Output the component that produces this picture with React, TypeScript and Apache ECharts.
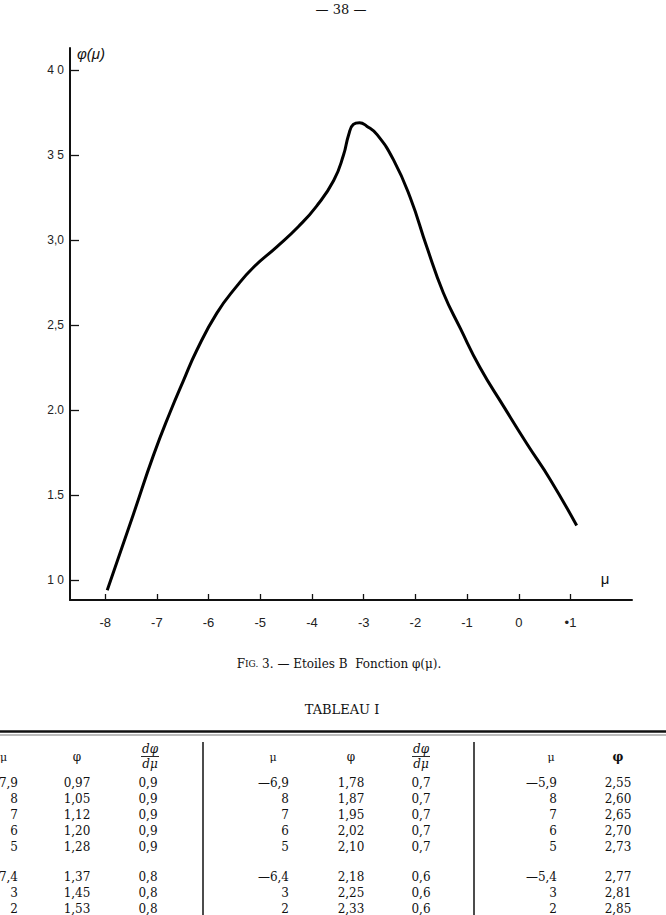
import React, { useEffect, useRef } from "react";
import * as echarts from "echarts";

// Curve: μ and φ(μ)
const muValues = [-7.96, -7.45, -7.07, -6.74, -6.49, -6.23, -5.84, -5.45, -5.13, -4.68, -4.26, -3.91, -3.58, -3.39, -3.29, -3.2, -3.08, -2.94, -2.74, -2.42, -2.1, -1.78, -1.46, -1.13, -0.75, -0.29, 0.16, 0.61, 1.12];
const phiValues = [0.94, 1.39, 1.73, 1.99, 2.17, 2.35, 2.57, 2.73, 2.84, 2.96, 3.08, 3.2, 3.35, 3.5, 3.62, 3.68, 3.69, 3.67, 3.62, 3.47, 3.25, 2.96, 2.69, 2.48, 2.25, 2.02, 1.8, 1.59, 1.32];

// Tick values and hand-written tick labels
const xTickValues = [-8, -7, -6, -5, -4, -3, -2, -1, 0, 1];
const xTickLabels = ["-8", "-7", "-6", "-5", "-4", "-3", "-2", "-1", "0", "•1"];
const yTickValues = [1, 1.5, 2, 2.5, 3, 3.5, 4];
const yTickLabels = ["1 0", "1.5", "2.0", "2,5", "3,0", "3 5", "4 0"];

// Texts
const pageNumber = "— 38 —";
const yAxisName = "φ(μ)";
const xAxisName = "μ";
const tableTitle = "TABLEAU I";

// Tableau I (visible part; the first column is cut by the page edge)
const tableMu1 = ["7,9", "8", "7", "6", "5", "7,4", "3", "2"];
const tablePhi1 = ["0,97", "1,05", "1,12", "1,20", "1,28", "1,37", "1,45", "1,53"];
const tableDphi1 = ["0,9", "0,9", "0,9", "0,9", "0,9", "0,8", "0,8", "0,8"];
const tableMu2 = ["—6,9", "8", "7", "6", "5", "—6,4", "3", "2"];
const tablePhi2 = ["1,78", "1,87", "1,95", "2,02", "2,10", "2,18", "2,25", "2,33"];
const tableDphi2 = ["0,7", "0,7", "0,7", "0,7", "0,7", "0,6", "0,6", "0,6"];
const tableMu3 = ["—5,9", "8", "7", "6", "5", "—5,4", "3", "2"];
const tablePhi3 = ["2,55", "2,60", "2,65", "2,70", "2,73", "2,77", "2,81", "2,85"];

const HAND = "'Liberation Sans', 'DejaVu Sans', sans-serif";
const SERIF = "'DejaVu Serif', 'Liberation Serif', serif";

function labelFor(values: number[], labels: string[], v: number) {
  for (let i = 0; i < values.length; i++) {
    if (Math.abs(values[i] - v) < 1e-6) return labels[i];
  }
  return "";
}

export default function App() {
  const ref = useRef<HTMLDivElement>(null);

  useEffect(() => {
    document.body.style.margin = "0";
    if (!ref.current) return;
    const chart = echarts.init(ref.current, undefined, { renderer: "svg" });

    const g: any[] = [];
    const txt = (x: number, y: number, text: string, font: string, align = "center", extra: any = {}) =>
      g.push({
        type: "text",
        x,
        y,
        silent: true,
        style: { text, font, fill: "#111", align, verticalAlign: "middle", ...extra },
      });
    const line = (x1: number, y1: number, x2: number, y2: number, w: number, color = "#111") =>
      g.push({ type: "line", silent: true, shape: { x1, y1, x2, y2 }, style: { stroke: color, lineWidth: w } });

    // page number
    txt(341, 9, pageNumber, "13px " + SERIF);
    // axis names
    txt(77, 53, yAxisName, "italic 15px " + HAND, "left");
    txt(605, 578, xAxisName, "15px " + HAND, "center");
    // caption
    g.push({
      type: "text",
      x: 339,
      y: 664,
      silent: true,
      style: {
        text: "{a|F}{b|IG.}{a| 3. — Etoiles B  Fonction φ(μ).}",
        align: "center",
        verticalAlign: "middle",
        rich: {
          a: { font: "12px " + SERIF, fill: "#111" },
          b: { font: "9px " + SERIF, fill: "#111" },
        },
      },
    });
    // table title and rules
    txt(342, 709, tableTitle, "13px " + SERIF);
    line(0, 731.5, 666, 731.5, 2.6);
    line(0, 735, 666, 735, 0.8, "#555");
    line(203, 742, 203, 915, 1.5);
    line(474, 742, 474, 915, 1.5);

    const hdrFont = "12px " + SERIF;
    const fracHeader = (cx: number) => {
      txt(cx, 749, "dφ", "italic " + hdrFont);
      line(cx - 9, 756.5, cx + 9, 756.5, 0.9);
      txt(cx, 764, "dμ", "italic " + hdrFont);
    };
    // headers
    txt(0, 757, "μ", "11px " + SERIF, "left");
    txt(77, 757, "φ", hdrFont);
    fracHeader(150);
    txt(273, 757, "μ", "11px " + SERIF);
    txt(351, 757, "φ", hdrFont);
    fracHeader(421);
    txt(551, 757, "μ", "11px " + SERIF);
    txt(618, 757, "φ", "bold " + hdrFont);

    const rowY = (i: number) => 783 + i * 16 + (i >= 5 ? 14 : 0);
    const cellFont = "12px " + SERIF;
    const groups = [
      { mu: tableMu1, phi: tablePhi1, d: tableDphi1, muX: 18, phiX: 77, dX: 148 },
      { mu: tableMu2, phi: tablePhi2, d: tableDphi2, muX: 289, phiX: 351, dX: 421 },
      { mu: tableMu3, phi: tablePhi3, d: null as string[] | null, muX: 557, phiX: 618, dX: 0 },
    ];
    groups.forEach((gr) => {
      gr.mu.forEach((v, i) => {
        const y = rowY(i);
        txt(gr.muX, y, v, cellFont, "right");
        txt(gr.phiX, y, gr.phi[i], cellFont, "center");
        if (gr.d) txt(gr.dX, y, gr.d[i], cellFont, "center");
      });
    });

    chart.setOption({
      animation: false,
      backgroundColor: "#fff",
      grid: { left: 70, right: 34, top: 48, bottom: 315, containLabel: false },
      xAxis: {
        type: "value",
        min: -8.68,
        max: 2.19,
        axisLine: { show: true, onZero: false, lineStyle: { color: "#111", width: 2 } },
        axisTick: { show: true, inside: true, length: 6, customValues: xTickValues, lineStyle: { color: "#111", width: 1.3 } },
        axisLabel: {
          customValues: xTickValues,
          margin: 16,
          color: "#222",
          fontFamily: HAND,
          fontSize: 13,
          formatter: (v: number) => labelFor(xTickValues, xTickLabels, v),
        },
        splitLine: { show: false },
      },
      yAxis: {
        type: "value",
        min: 0.882,
        max: 4.13,
        axisLine: { show: true, onZero: false, lineStyle: { color: "#111", width: 2 } },
        axisTick: { show: true, inside: true, length: 9, customValues: yTickValues, lineStyle: { color: "#111", width: 1.3 } },
        axisLabel: {
          customValues: yTickValues,
          margin: 6,
          color: "#222",
          fontFamily: HAND,
          fontSize: 12,
          formatter: (v: number) => labelFor(yTickValues, yTickLabels, v),
        },
        splitLine: { show: false },
      },
      series: [
        {
          type: "line",
          data: muValues.map((m, i) => [m, phiValues[i]]),
          smooth: 0.5,
          showSymbol: false,
          symbol: "none",
          clip: false,
          lineStyle: { color: "#000", width: 3 },
        },
      ],
      graphic: g,
    });

    return () => chart.dispose();
  }, []);

  return <div ref={ref} style={{ width: 666, height: 915 }} />;
}
